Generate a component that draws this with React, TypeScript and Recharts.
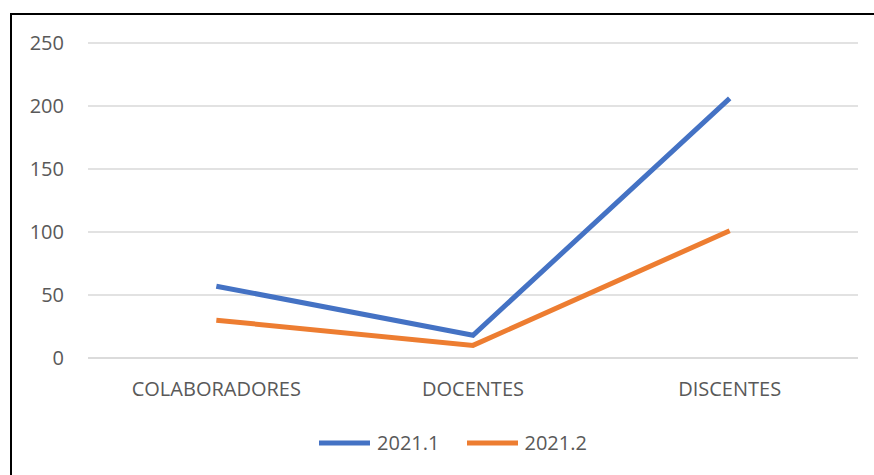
import React from 'react';
import { LineChart, Line, XAxis, YAxis, CartesianGrid, Legend } from 'recharts';

const categories = ['COLABORADORES', 'DOCENTES', 'DISCENTES'];
const series2021_1 = [57, 18, 206];
const series2021_2 = [30, 10, 101];
const yTicks = [0, 50, 100, 150, 200, 250];

const data = categories.map((c, i) => ({ name: c, s1: series2021_1[i], s2: series2021_2[i] }));

const FONT = "'Open Sans', sans-serif";
const TEXT = '#595959';

const LegendContent = (props: any) => {
  const { payload } = props;
  return (
    <div style={{ display: 'flex', justifyContent: 'center', alignItems: 'center', fontFamily: FONT, fontSize: 20, color: TEXT }}>
      {(payload || []).map((p: any, i: number) => (
        <div key={i} style={{ display: 'flex', alignItems: 'center', marginLeft: i === 0 ? 0 : 27 }}>
          <svg width={51} height={6} style={{ display: 'block' }}>
            <line x1={0} y1={3} x2={51} y2={3} stroke={p.color} strokeWidth={5} />
          </svg>
          <span style={{ marginLeft: 7, lineHeight: '28px' }}>{p.value}</span>
        </div>
      ))}
    </div>
  );
};

export default function App() {
  return (
    <div style={{ position: 'absolute', left: 0, top: 0, width: 874, height: 475, overflow: 'hidden', background: '#fff' }}>
      <div style={{ position: 'absolute', left: 10, top: 13, width: 900, height: 500, borderLeft: '2px solid #000', borderTop: '2px solid #000', boxSizing: 'border-box' }} />
      <div style={{ position: 'absolute', left: 0, top: 0 }}>
        <LineChart width={874} height={475} data={data} margin={{ top: 43, right: 16, bottom: 87, left: 0 }}>
          <CartesianGrid vertical={false} stroke="#d9d9d9" strokeWidth={1.5} />
          <XAxis
            dataKey="name"
            scale="band"
            axisLine={{ stroke: '#d9d9d9', strokeWidth: 1.5 }}
            tickLine={false}
            tickMargin={18}
            height={30}
            tick={{ fill: TEXT, fontSize: 20, fontFamily: FONT }}
          />
          <YAxis
            width={88}
            domain={[0, 250]}
            ticks={yTicks}
            axisLine={false}
            tickLine={false}
            tickMargin={18}
            tick={{ fill: TEXT, fontSize: 20, fontFamily: FONT }}
          />
          <Legend
            layout="horizontal"
            verticalAlign="middle"
            align="center"
            content={<LegendContent />}
            wrapperStyle={{ top: 429, left: 0, width: 906 }}
          />
          <Line type="linear" dataKey="s1" name="2021.1" stroke="#4472C4" strokeWidth={5} dot={false} isAnimationActive={false} />
          <Line type="linear" dataKey="s2" name="2021.2" stroke="#ED7D31" strokeWidth={5} dot={false} isAnimationActive={false} />
        </LineChart>
      </div>
    </div>
  );
}
